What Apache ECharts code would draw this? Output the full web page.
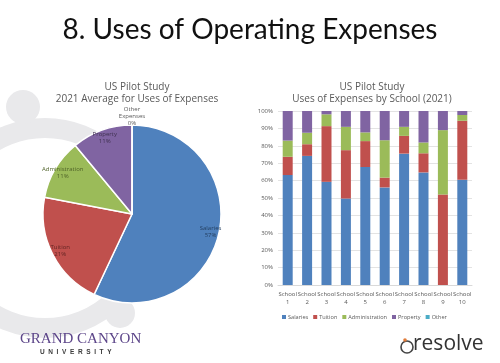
<!DOCTYPE html>
<html><head><meta charset="utf-8">
<script src="https://cdn.jsdelivr.net/npm/echarts@6/dist/echarts.min.js"></script>
<style>html,body{margin:0;padding:0;background:#fff}#c{width:500px;height:363px}</style>
</head><body><div id="c"></div>
<script>
// ---- data ----
var pieCategories = ['Salaries', 'Tuition', 'Administration', 'Property', 'Other\nExpenses'];
var pieValues = [57, 21, 11, 11, 0];

var schools = ['School\n1','School\n2','School\n3','School\n4','School\n5','School\n6','School\n7','School\n8','School\n9','School\n10'];
var seriesNames = ['Salaries', 'Tuition', 'Administration', 'Property', 'Other'];
var salaries       = [63.2, 74.2, 59.3, 49.7, 67.8, 56.1, 75.5, 64.7, 0,    60.5];
var tuition        = [10.5, 6.7,  32.0, 27.8, 14.9, 5.6,  10.2, 11.0, 52.0, 33.9];
var administration = [9.3,  6.6,  6.8,  13.4, 5.0,  21.5, 5.2,  6.2,  37.0, 3.3];
var property       = [17.0, 12.5, 1.9,  9.1,  12.3, 16.8, 9.1,  18.1, 11.0, 2.3];
var other          = [0,    0,    0,    0,    0,    0,    0,    0,    0,    0];
var yTicks = [0, 10, 20, 30, 40, 50, 60, 70, 80, 90, 100];

var colors = ['#4f81bd', '#c0504d', '#9bbb59', '#8064a2', '#4bacc6'];
var labelColors = ['#243f60', '#632523', '#4f6228', '#3f3151', '#595959'];

var chart = echarts.init(document.getElementById('c'), null, {renderer: 'canvas'});
var barData = [salaries, tuition, administration, property, other];
var font = 'Open Sans, Liberation Sans, sans-serif';
var pieCenter = [132, 214];

function labelPie(radius, showFn) {
  return {
    type: 'pie', center: pieCenter, radius: [0, radius], startAngle: 90, clockwise: true,
    silent: true, z: 5, avoidLabelOverlap: false, minShowLabelAngle: -1, stillShowZeroSum: true,
    data: pieCategories.map(function (n, i) {
      return {name: n, value: pieValues[i], label: {show: showFn(i), color: labelColors[i]}};
    }),
    itemStyle: {color: 'rgba(0,0,0,0)', borderWidth: 0},
    label: {position: 'inside', fontSize: 6, lineHeight: 7,
      formatter: function (p) { return p.name + '\n' + p.value + '%'; }},
    labelLine: {show: false}
  };
}

var option = {
  animation: false,
  textStyle: {fontFamily: font},
  graphic: [
    {type: 'arc', z: -10, shape: {cx: 45, cy: 228, r: 100, startAngle: 0, endAngle: Math.PI * 2},
      style: {stroke: '#e9e9eb', lineWidth: 20, fill: null}},
    {type: 'circle', z: -10, shape: {cx: 23, cy: 107, r: 17}, style: {fill: '#e9e9eb'}},
    {type: 'circle', z: -10, shape: {cx: 120, cy: 313, r: 15}, style: {fill: '#e9e9eb'}},
    {type: 'text', left: 'center', top: 16, style: {text: '8. Uses of Operating Expenses', fill: '#111',
      font: '28px Lato, Open Sans, sans-serif'}},
    {type: 'text', left: 20, top: 332, style: {text: 'GRAND CANYON', fill: '#5c4589',
      font: '15px Liberation Serif, DejaVu Serif, serif'}},
    {type: 'text', left: 40, top: 349, style: {text: 'U  N  I  V  E  R  S  I  T  Y', fill: '#3a3a3a',
      font: 'bold 6.5px Liberation Sans, sans-serif'}},
    {type: 'circle', shape: {cx: 407, cy: 347, r: 6}, style: {fill: null, stroke: '#444', lineWidth: 1.6}},
    {type: 'circle', shape: {cx: 405, cy: 340, r: 1.8}, style: {fill: '#e07b39'}},
    {type: 'text', left: 413, top: 334, style: {text: 'resolve', fill: '#333',
      font: '21px Open Sans, sans-serif'}}
  ],
  title: [
    {text: 'US Pilot Study\n2021 Average for Uses of Expenses', left: 132, top: 76, textAlign: 'center',
      textStyle: {fontSize: 10, fontWeight: 'normal', color: '#595959', lineHeight: 12, fontFamily: font}},
    {text: 'US Pilot Study\nUses of Expenses by School (2021)', left: 367, top: 76, textAlign: 'center',
      textStyle: {fontSize: 10, fontWeight: 'normal', color: '#595959', lineHeight: 12, fontFamily: font}}
  ],
  legend: {
    data: seriesNames, left: 282, top: 314, padding: 0, icon: 'rect', itemWidth: 4, itemHeight: 4, itemGap: 5,
    textStyle: {fontSize: 5.6, color: '#595959', padding: [0, 0, 0, -3]}
  },
  grid: {left: 278, right: 28, top: 111, bottom: 78},
  xAxis: {
    type: 'category', data: schools,
    axisLine: {lineStyle: {color: '#d9d9d9'}}, axisTick: {show: false},
    axisLabel: {fontSize: 6, color: '#595959', lineHeight: 8, margin: 5, interval: 0}
  },
  yAxis: {
    type: 'value', min: yTicks[0], max: yTicks[yTicks.length - 1], interval: 10,
    axisLabel: {fontSize: 6, color: '#595959', margin: 5, formatter: '{value}%'},
    splitLine: {lineStyle: {color: '#e3e3e3'}}, axisLine: {show: false}, axisTick: {show: false}
  },
  series: [
    {
      type: 'pie', center: pieCenter, radius: [0, 89], startAngle: 90, clockwise: true,
      data: pieCategories.map(function (n, i) { return {name: n, value: pieValues[i], itemStyle: {color: colors[i]}}; }),
      silent: true,
      itemStyle: {borderColor: '#fff', borderWidth: 1.5},
      label: {show: false}, labelLine: {show: false}
    },
    labelPie(155, function (i) { return pieValues[i] !== 0; }),
    labelPie(190, function (i) { return pieValues[i] === 0; })
  ].concat(seriesNames.map(function (n, i) {
    return {
      name: n, type: 'bar', stack: 'total', data: barData[i], barWidth: 10,
      itemStyle: {color: colors[i]}
    };
  }))
};
chart.setOption(option);
</script>
</body></html>
